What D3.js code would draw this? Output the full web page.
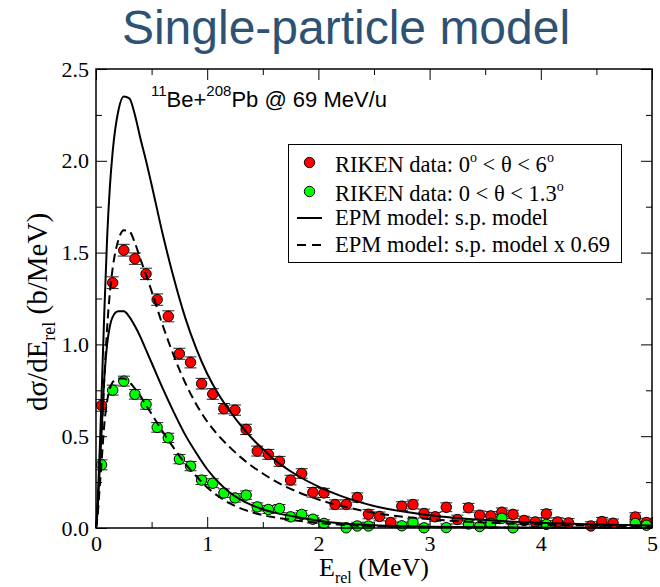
<!DOCTYPE html>
<html>
<head>
<meta charset="utf-8">
<script src="https://cdn.jsdelivr.net/npm/d3@7"></script>
<style>
  body { margin: 0; background: #fff; }
  svg text { font-family: "Liberation Serif", "Times New Roman", serif; }
</style>
</head>
<body>
<div id="chart"></div>
<script>
// RIKEN data, 0 < theta < 6 deg (red)
var redE = [0.05, 0.15, 0.25, 0.35, 0.45, 0.55, 0.65, 0.75, 0.85, 0.95,
  1.05, 1.15, 1.25, 1.35, 1.45, 1.55, 1.65, 1.75, 1.85, 1.95,
  2.05, 2.15, 2.25, 2.35, 2.45, 2.55, 2.65, 2.75, 2.85, 2.95,
  3.05, 3.15, 3.25, 3.35, 3.45, 3.55, 3.65, 3.75, 3.85, 3.95,
  4.05, 4.15, 4.25, 4.45, 4.55, 4.65, 4.85, 4.95];
var redSigma = [0.668, 1.336, 1.513, 1.467, 1.384, 1.244, 1.153, 0.949, 0.902, 0.786,
  0.730, 0.650, 0.642, 0.537, 0.419, 0.401, 0.363, 0.261, 0.297, 0.194,
  0.191, 0.128, 0.128, 0.166, 0.075, 0.063, 0.030, 0.119, 0.128, 0.079,
  0.061, 0.113, 0.046, 0.110, 0.070, 0.066, 0.086, 0.074, 0.041, 0.033,
  0.077, 0.033, 0.028, 0.011, 0.035, 0.026, 0.060, 0.030];
var redErr = [0.032, 0.032, 0.032, 0.031, 0.031, 0.031, 0.030, 0.030, 0.030, 0.029,
  0.029, 0.028, 0.028, 0.028, 0.027, 0.027, 0.027, 0.026, 0.026, 0.026,
  0.025, 0.025, 0.025, 0.025, 0.025, 0.024, 0.024, 0.024, 0.024, 0.024,
  0.024, 0.024, 0.024, 0.024, 0.023, 0.023, 0.023, 0.023, 0.023, 0.023,
  0.023, 0.023, 0.023, 0.023, 0.023, 0.023, 0.023, 0.023];

// RIKEN data, 0 < theta < 1.3 deg (green)
var greenE = [0.05, 0.15, 0.25, 0.35, 0.45, 0.55, 0.65, 0.75, 0.85, 0.95,
  1.05, 1.15, 1.25, 1.35, 1.45, 1.55, 1.65, 1.75, 1.85, 1.95,
  2.05, 2.25, 2.35, 2.45, 2.75, 2.85, 2.95, 3.15, 3.35, 3.45,
  3.55, 3.65, 3.75, 4.05, 4.85, 4.95];
var greenSigma = [0.344, 0.751, 0.800, 0.728, 0.673, 0.548, 0.491, 0.375, 0.337, 0.261,
  0.244, 0.190, 0.164, 0.179, 0.115, 0.101, 0.106, 0.061, 0.074, 0.048,
  0.025, 0.001, 0.011, 0.011, 0.012, 0.030, 0.001, 0.002, 0.022, 0.008,
  0.025, 0.053, 0.001, 0.020, 0.025, 0.015];
var greenErr = [0.027, 0.027, 0.027, 0.026, 0.026, 0.026, 0.025, 0.025, 0.025, 0.024,
  0.024, 0.023, 0.023, 0.023, 0.022, 0.022, 0.022, 0.021, 0.021, 0.021,
  0.020, 0.020, 0.020, 0.020, 0.020, 0.020, 0.020, 0.020, 0.020, 0.020,
  0.020, 0.020, 0.020, 0.020, 0.020, 0.020];

// EPM model curves
var modelE = [0, 0.01, 0.02, 0.035, 0.05, 0.075, 0.1, 0.125, 0.15, 0.2,
  0.25, 0.3, 0.35, 0.4, 0.45, 0.5, 0.6, 0.7, 0.8, 0.9,
  1.0, 1.1, 1.2, 1.3, 1.4, 1.5, 1.6, 1.8, 2.0, 2.2,
  2.5, 3.0, 3.5, 4.0, 4.5, 5.0];
var spWide = [0, 0.08, 0.22, 0.45, 0.72, 1.18, 1.58, 1.86, 2.05, 2.27,
  2.35, 2.34, 2.25, 2.12, 2.0, 1.87, 1.6, 1.36, 1.15, 0.98,
  0.84, 0.73, 0.64, 0.56, 0.49, 0.43, 0.375, 0.29, 0.225, 0.175,
  0.12, 0.07, 0.043, 0.028, 0.019, 0.013];
var spWideScaled = [0, 0.055, 0.152, 0.31, 0.497, 0.814, 1.09, 1.283, 1.415, 1.566,
  1.622, 1.615, 1.553, 1.463, 1.38, 1.29, 1.104, 0.938, 0.794, 0.676,
  0.58, 0.504, 0.442, 0.386, 0.338, 0.297, 0.259, 0.2, 0.155, 0.121,
  0.083, 0.048, 0.03, 0.019, 0.013, 0.009];
var spNarrow = [0, 0.06, 0.16, 0.34, 0.52, 0.82, 1.0, 1.1, 1.15, 1.18,
  1.18, 1.15, 1.1, 1.04, 0.97, 0.9, 0.76, 0.63, 0.51, 0.41,
  0.32, 0.25, 0.195, 0.155, 0.125, 0.102, 0.085, 0.06, 0.04, 0.026,
  0.015, 0.007, 0.004, 0.002, 0.001, 0];
var spNarrowScaled = [0, 0.041, 0.11, 0.235, 0.359, 0.566, 0.69, 0.759, 0.794, 0.814,
  0.814, 0.794, 0.759, 0.718, 0.669, 0.621, 0.524, 0.435, 0.352, 0.283,
  0.221, 0.173, 0.135, 0.107, 0.086, 0.07, 0.059, 0.041, 0.028, 0.018,
  0.01, 0.005, 0.003, 0.001, 0.001, 0];

var xTicks = [0, 1, 2, 3, 4, 5];
var xMinor = [0.5, 1.5, 2.5, 3.5, 4.5];
var yTicks = [0, 0.5, 1.0, 1.5, 2.0, 2.5];
var yMinor = [0.25, 0.75, 1.25, 1.75, 2.25];

// SVG setup
var svgWidth = 660;
var svgHeight = 587;
var margin = { top: 69, right: 8, bottom: 59, left: 96 };
var width = 556;
var height = 459;

var svg = d3.select("#chart")
  .append("svg")
  .attr("width", svgWidth)
  .attr("height", svgHeight);

// Title
svg.append("text")
  .attr("x", 346)
  .attr("y", 44)
  .attr("text-anchor", "middle")
  .style("font-family", "'Liberation Sans', Arial, sans-serif")
  .style("font-size", "48px")
  .attr("fill", "#2e5274")
  .text("Single-particle model");

var chartGroup = svg.append("g")
  .attr("transform", `translate(${margin.left}, ${margin.top})`);

var xScale = d3.scaleLinear().domain([0, 5]).range([0, width]);
var yScale = d3.scaleLinear().domain([0, 2.5]).range([height, 0]);

// Axes, ticks pointing inward on all four sides
function styleAxis(g) {
  g.select(".domain").remove();
  g.selectAll(".tick line").attr("stroke", "#000").attr("stroke-width", 1);
  g.selectAll(".tick text")
    .style("font-family", "'Liberation Serif', 'Times New Roman', serif")
    .style("font-size", "22px")
    .attr("fill", "#000");
}

chartGroup.append("g")
  .attr("transform", `translate(0, ${height})`)
  .call(d3.axisBottom(xScale).tickValues(xTicks).tickFormat(d3.format("d")).tickSize(-11).tickPadding(7))
  .call(styleAxis);
chartGroup.append("g")
  .attr("transform", `translate(0, ${height})`)
  .call(d3.axisBottom(xScale).tickValues(xMinor).tickFormat("").tickSize(-6))
  .call(styleAxis);
chartGroup.append("g")
  .call(d3.axisTop(xScale).tickValues(xTicks).tickFormat("").tickSize(-11))
  .call(styleAxis);
chartGroup.append("g")
  .call(d3.axisTop(xScale).tickValues(xMinor).tickFormat("").tickSize(-6))
  .call(styleAxis);

chartGroup.append("g")
  .call(d3.axisLeft(yScale).tickValues(yTicks).tickFormat(d3.format(".1f")).tickSize(-11).tickPadding(7))
  .call(styleAxis);
chartGroup.append("g")
  .call(d3.axisLeft(yScale).tickValues(yMinor).tickFormat("").tickSize(-6))
  .call(styleAxis);
chartGroup.append("g")
  .attr("transform", `translate(${width}, 0)`)
  .call(d3.axisRight(yScale).tickValues(yTicks).tickFormat("").tickSize(-11))
  .call(styleAxis);
chartGroup.append("g")
  .attr("transform", `translate(${width}, 0)`)
  .call(d3.axisRight(yScale).tickValues(yMinor).tickFormat("").tickSize(-6))
  .call(styleAxis);

// Build point records
var redData = redE.map((e, i) => ({ e: e, v: redSigma[i], err: redErr[i] }));
var greenData = greenE.map((e, i) => ({ e: e, v: greenSigma[i], err: greenErr[i] }));

function drawPoints(data, color) {
  var g = chartGroup.append("g");
  var bars = g.selectAll(".err")
    .data(data)
    .enter()
    .append("g")
    .attr("stroke", "#222")
    .attr("stroke-width", 1);
  bars.append("line")
    .attr("x1", d => xScale(d.e)).attr("x2", d => xScale(d.e))
    .attr("y1", d => yScale(d.v + d.err)).attr("y2", d => yScale(Math.max(0, d.v - d.err)));
  bars.append("line")
    .attr("x1", d => xScale(d.e) - 6).attr("x2", d => xScale(d.e) + 6)
    .attr("y1", d => yScale(d.v + d.err)).attr("y2", d => yScale(d.v + d.err));
  bars.append("line")
    .attr("x1", d => xScale(d.e) - 6).attr("x2", d => xScale(d.e) + 6)
    .attr("y1", d => yScale(d.v - d.err)).attr("y2", d => yScale(d.v - d.err))
    .attr("display", d => d.v - d.err < 0 ? "none" : null);
  g.selectAll("circle")
    .data(data)
    .enter()
    .append("circle")
    .attr("cx", d => xScale(d.e))
    .attr("cy", d => yScale(d.v))
    .attr("r", 5.2)
    .attr("fill", color)
    .attr("stroke", "#000")
    .attr("stroke-width", 1);
}

drawPoints(redData, "#ff0000");
drawPoints(greenData, "#00ff00");

// Model curves
var line = d3.line()
  .x(d => xScale(d[0]))
  .y(d => yScale(d[1]))
  .curve(d3.curveMonotoneX);

function drawCurve(values, dashed) {
  chartGroup.append("path")
    .datum(modelE.map((e, i) => [e, values[i]]))
    .attr("d", line)
    .attr("fill", "none")
    .attr("stroke", "#000")
    .attr("stroke-width", 2)
    .attr("stroke-dasharray", dashed ? "9,5" : null);
}

drawCurve(spWide, false);
drawCurve(spNarrow, false);
drawCurve(spWideScaled, true);
drawCurve(spNarrowScaled, true);

// Frame
chartGroup.append("rect")
  .attr("width", width)
  .attr("height", height)
  .attr("fill", "none")
  .attr("stroke", "#000")
  .attr("stroke-width", 1.5);

// Reaction label
var react = chartGroup.append("text")
  .attr("x", 55)
  .attr("y", 38)
  .style("font-family", "'Liberation Sans', Arial, sans-serif")
  .style("font-size", "22px");
react.append("tspan").style("font-size", "15px").attr("dy", -11).text("11");
react.append("tspan").attr("dy", 11).text("Be+");
react.append("tspan").style("font-size", "15px").attr("dy", -11).text("208");
react.append("tspan").attr("dy", 11).text("Pb @ 69 MeV/u");

// Legend
var legend = svg.append("g");
legend.append("rect")
  .attr("x", 288.5).attr("y", 144.5)
  .attr("width", 333).attr("height", 118)
  .attr("fill", "#fff")
  .attr("stroke", "#000")
  .attr("stroke-width", 1);

var legendRows = [
  { kind: "red", y: 172 },
  { kind: "green", y: 201 },
  { kind: "solid", y: 225 },
  { kind: "dashed", y: 252 }
];

legendRows.forEach(function(r) {
  if (r.kind === "red" || r.kind === "green") {
    legend.append("circle")
      .attr("cx", 309.5).attr("cy", r.y - 9.5).attr("r", 5.2)
      .attr("fill", r.kind === "red" ? "#ff0000" : "#00ff00")
      .attr("stroke", "#000");
  } else {
    legend.append("line")
      .attr("x1", 297).attr("x2", 322)
      .attr("y1", r.y - 7).attr("y2", r.y - 7)
      .attr("stroke", "#000").attr("stroke-width", 2)
      .attr("stroke-dasharray", r.kind === "dashed" ? "9,6" : null);
  }
});

function legendText(y, parts) {
  var t = legend.append("text")
    .attr("x", 335).attr("y", y)
    .style("font-size", "22.5px");
  parts.forEach(function(p) {
    if (p.sup) {
      t.append("tspan").style("font-size", "14px").attr("dy", -10).text(p.sup);
    } else {
      t.append("tspan").attr("dy", p.after ? 10 : 0).text(p.text);
    }
  });
}

legendText(172, [{ text: "RIKEN data: 0" }, { sup: "o" }, { text: " < θ < 6", after: true }, { sup: "o" }]);
legendText(201, [{ text: "RIKEN data: 0 < θ < 1.3" }, { sup: "o" }]);
legendText(225, [{ text: "EPM model: s.p. model" }]);
legendText(252, [{ text: "EPM model: s.p. model x 0.69" }]);

// Axis labels
var yLabel = svg.append("text")
  .attr("transform", "translate(47, 312) rotate(-90)")
  .attr("text-anchor", "middle")
  .style("font-size", "29px");
yLabel.append("tspan").text("dσ/dE");
yLabel.append("tspan").style("font-size", "18px").attr("dy", 8).text("rel");
yLabel.append("tspan").attr("dy", -8).text(" (b/MeV)");

var xLabel = svg.append("text")
  .attr("x", 374)
  .attr("y", 576)
  .attr("text-anchor", "middle")
  .style("font-size", "26px");
xLabel.append("tspan").text("E");
xLabel.append("tspan").style("font-size", "16px").attr("dy", 7).text("rel");
xLabel.append("tspan").attr("dy", -7).text(" (MeV)");
</script>
</body>
</html>
